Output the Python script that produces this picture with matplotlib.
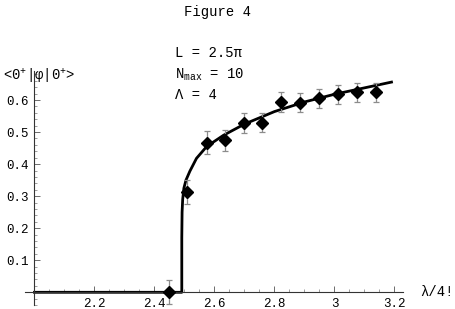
import numpy as np
import matplotlib.pyplot as plt
from matplotlib.ticker import MultipleLocator

# Mathematica-like monospace look
plt.rcParams['font.family'] = ['Liberation Mono', 'DejaVu Sans']
plt.rcParams['mathtext.fontset'] = 'custom'
plt.rcParams['mathtext.rm'] = 'Liberation Mono'
plt.rcParams['mathtext.it'] = 'Liberation Mono'

# measured points (lambda/4!, <0+|phi|0+>) with errors
lam = [2.45, 2.51, 2.574, 2.635, 2.697, 2.760, 2.822, 2.886, 2.948, 3.011, 3.074, 3.137]
vev = [0.0, 0.314, 0.467, 0.475, 0.527, 0.529, 0.593, 0.592, 0.605, 0.618, 0.624, 0.624]
err = [0.038, 0.037, 0.035, 0.033, 0.031, 0.030, 0.031, 0.029, 0.030, 0.030, 0.030, 0.030]

# fitted curve
curve_x = [2.0, 2.491, 2.491, 2.4915, 2.492, 2.494, 2.498, 2.505, 2.518, 2.54, 2.574,
           2.63, 2.70, 2.80, 2.90, 3.00, 3.10, 3.19]
curve_y = [0.0, 0.0, 0.17, 0.21, 0.25, 0.29, 0.325, 0.35, 0.378, 0.418, 0.455,
           0.490, 0.525, 0.564, 0.594, 0.618, 0.638, 0.656]

x_ticks = [2.2, 2.4, 2.6, 2.8, 3.0, 3.2]
x_tick_labels = ['2.2', '2.4', '2.6', '2.8', '3', '3.2']
y_ticks = [0.1, 0.2, 0.3, 0.4, 0.5, 0.6]
y_tick_labels = ['0.1', '0.2', '0.3', '0.4', '0.5', '0.6']

fig = plt.figure(figsize=(4.55, 3.09), dpi=100)
ax = fig.add_axes([0.056, 0.0126, 0.8308, 0.757])

ax.plot(curve_x, curve_y, color='black', lw=2.0, solid_joinstyle='round', zorder=2)
ax.errorbar(lam, vev, yerr=err, fmt='none', ecolor='#8c8c8c', elinewidth=0.9,
            capsize=2.5, capthick=0.9, zorder=3)
ax.plot(lam, vev, 'D', color='black', markersize=6.5, zorder=4)

ax.set_xlim(1.97, 3.23)
ax.set_ylim(-0.04, 0.69)

for s in ['top', 'right']:
    ax.spines[s].set_visible(False)
ax.spines['left'].set_position(('data', 2.0))
ax.spines['bottom'].set_position(('data', 0.0))
for s in ['left', 'bottom']:
    ax.spines[s].set_linewidth(0.8)
    ax.spines[s].set_color('#333333')

ax.set_xticks(x_ticks)
ax.set_xticklabels(x_tick_labels)
ax.set_yticks(y_ticks)
ax.set_yticklabels(y_tick_labels)
ax.xaxis.set_minor_locator(MultipleLocator(0.05))
ax.yaxis.set_minor_locator(MultipleLocator(0.02))
ax.tick_params(which='major', direction='in', length=4, width=0.6, labelsize=9, pad=4,
               color='#555555')
ax.tick_params(which='minor', direction='in', length=2, width=0.5, color='#777777')

fig.text(217 / 455, 1 - 12 / 309, 'Figure 4', ha='center', va='center', fontsize=10)
fig.text(3 / 455, 1 - 76 / 309, r'<0$^{+}$|φ|0$^{+}$>', ha='left', va='center', fontsize=10,
         family=['Liberation Mono', 'DejaVu Sans'])
fig.text(420 / 455, 1 - 292 / 309, 'λ/4!', ha='left', va='center', fontsize=10)

fig.text(175 / 455, 1 - 53 / 309, 'L = 2.5π', ha='left', va='center', fontsize=10)
fig.text(175 / 455, 1 - 75 / 309, r'N$_{\rm max}$ = 10', ha='left', va='center', fontsize=10)
fig.text(175 / 455, 1 - 95 / 309, 'Λ = 4', ha='left', va='center', fontsize=10)

fig.savefig('out.png', dpi=100)
